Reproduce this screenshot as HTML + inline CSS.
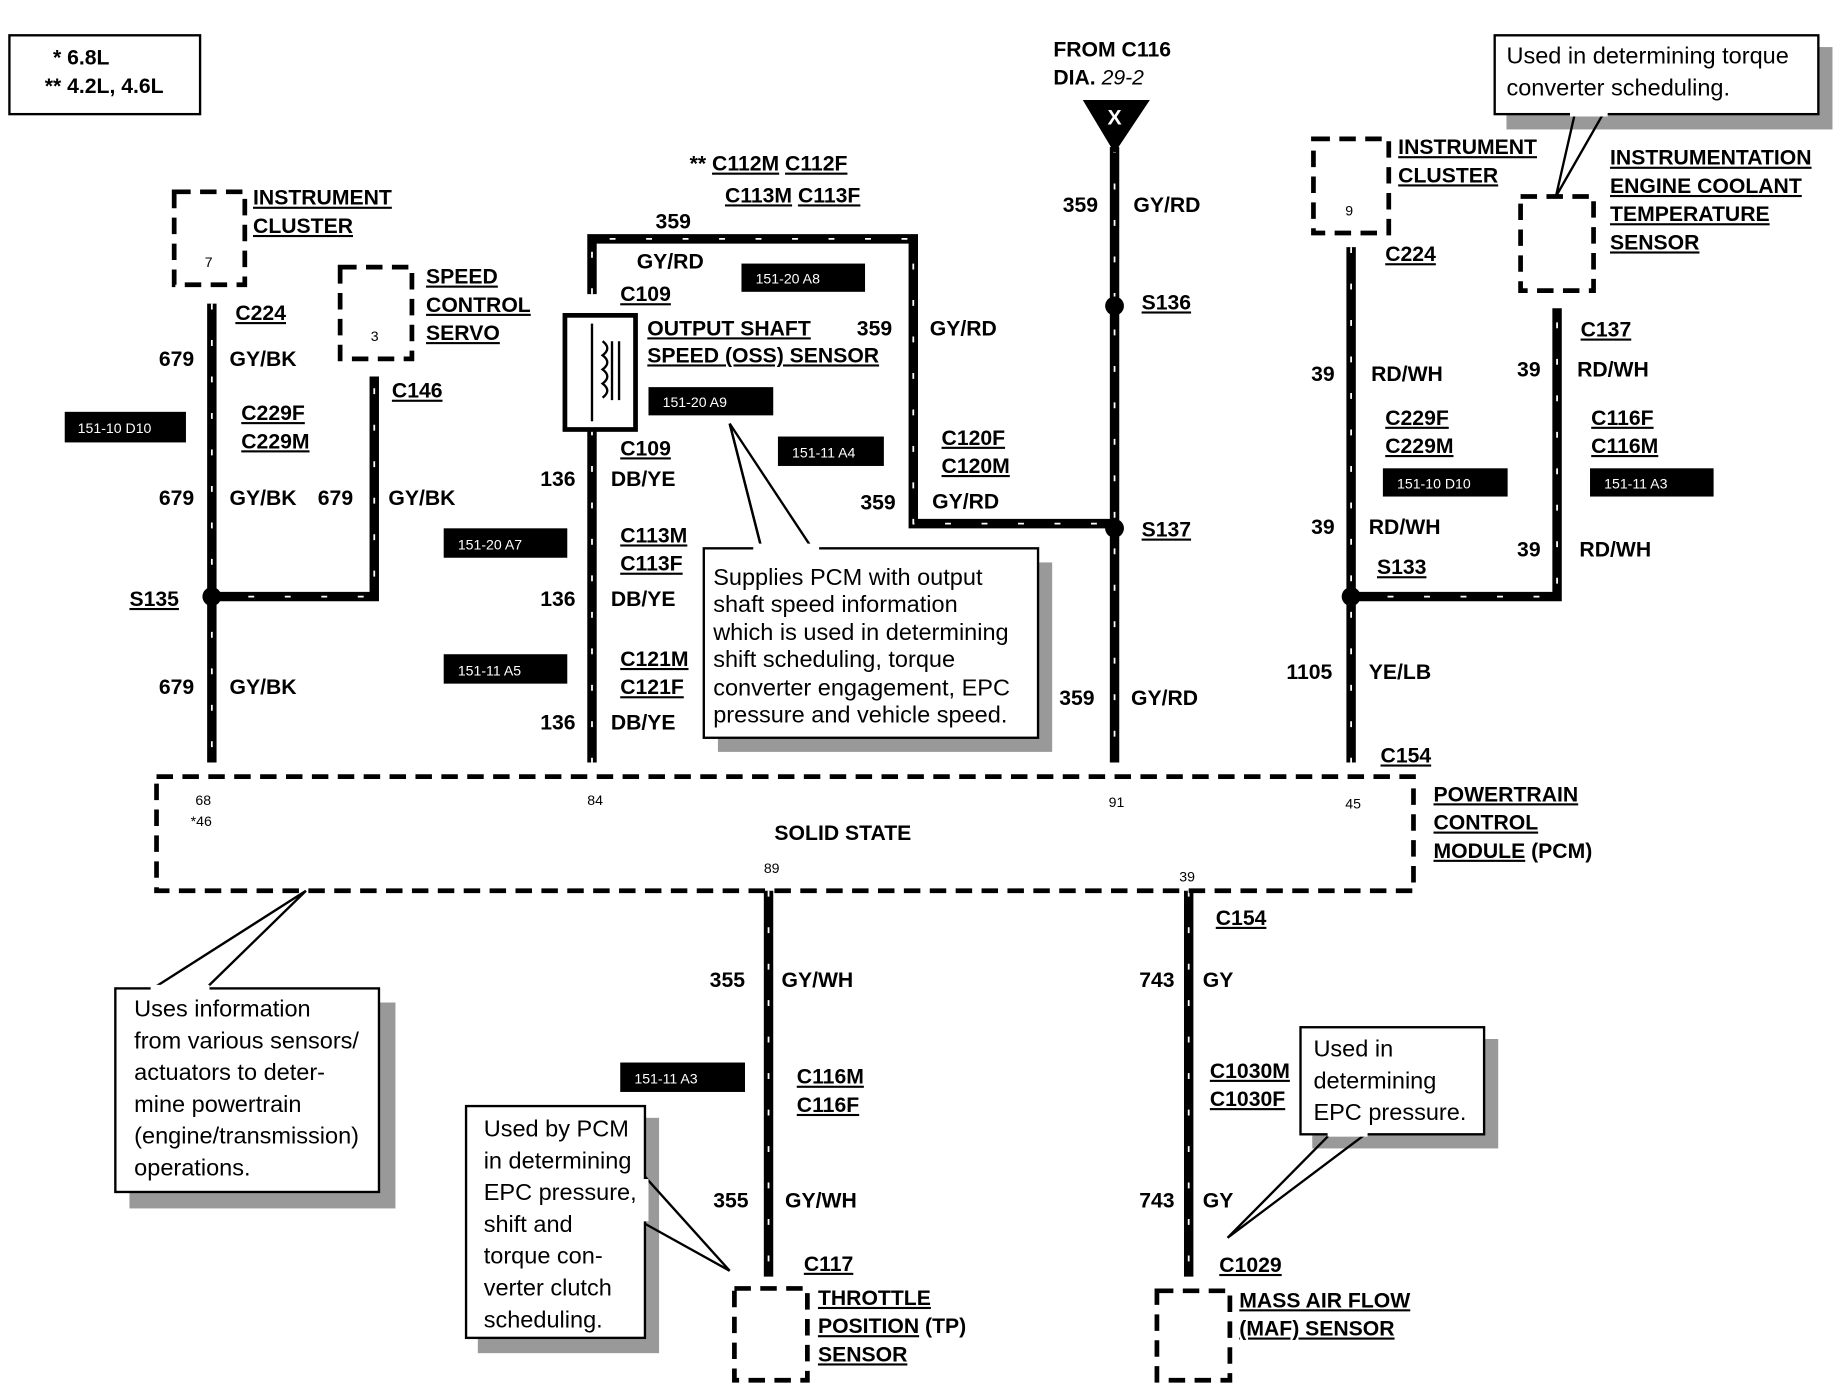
<!DOCTYPE html>
<html><head><meta charset="utf-8"><style>
html,body{margin:0;padding:0;background:#fff}
svg{display:block}
.b{font-family:"Liberation Sans",sans-serif;font-weight:bold;font-size:18px;fill:#000}
.u{text-decoration:underline}
.n{font-family:"Liberation Sans",sans-serif;font-size:20px;fill:#000}
.s{font-family:"Liberation Sans",sans-serif;font-size:12px;fill:#000}
.w{fill:none;stroke:#000;stroke-width:8}
.wd{fill:none;stroke:#fff;stroke-width:1.5;stroke-dasharray:5 26}
.dbx{fill:none;stroke:#000;stroke-width:4;stroke-dasharray:14 8}
.lbl{fill:#000}
.lt{font-family:"Liberation Sans",sans-serif;font-size:12px;fill:#fff}
.cb{fill:#fff;stroke:#000;stroke-width:2}
.sh{fill:#999}
</style></head><body>
<svg width="1836" height="1392" viewBox="0 0 1560 1183" preserveAspectRatio="none" xmlns="http://www.w3.org/2000/svg">
<rect width="1560" height="1183" fill="#fff"/>
<!-- legend -->
<rect x="8" y="30" width="162" height="67" fill="none" stroke="#000" stroke-width="2"/>
<text class="b" x="45" y="55">* 6.8L</text>
<text class="b" x="38" y="79">** 4.2L, 4.6L</text>

<!-- wires -->
<g>
<path class="w" d="M180,258 V648"/><path class="wd" d="M180,258 V648"/>
<path class="w" d="M180,507 H318 V320"/><path class="wd" d="M180,507 H318 V320"/>
<path class="w" d="M503,250 V203 H776 V445 H947"/><path class="wd" d="M503,250 V203 H776 V445 H947"/>
<path class="w" d="M503,365 V648"/><path class="wd" d="M503,365 V648"/>
<path class="w" d="M947,125 V648"/><path class="wd" d="M947,125 V648"/>
<path class="w" d="M1148,210 V648"/><path class="wd" d="M1148,210 V648"/>
<path class="w" d="M1148,507 H1323 V262"/><path class="wd" d="M1148,507 H1323 V262"/>
<path class="w" d="M653,757 V1085"/><path class="wd" d="M653,757 V1085"/>
<path class="w" d="M1010,757 V1085"/><path class="wd" d="M1010,757 V1085"/>
</g>
<circle cx="180" cy="507" r="8"/><circle cx="947" cy="260" r="8"/><circle cx="947" cy="449" r="8"/><circle cx="1148" cy="507" r="8"/>

<!-- left -->
<rect class="dbx" x="148" y="163" width="60" height="79" fill="#fff"/>
<text class="s" x="174" y="227">7</text>
<text class="b u" x="215" y="174">INSTRUMENT</text><text class="b u" x="215" y="198">CLUSTER</text>
<text class="b u" x="200" y="272">C224</text>
<text class="b" x="135" y="311">679</text><text class="b" x="195" y="311">GY/BK</text>
<rect class="lbl" x="55" y="350" width="103" height="26"/><text class="lt" x="66" y="368">151-10 D10</text>
<text class="b u" x="205" y="357">C229F</text><text class="b u" x="205" y="381">C229M</text>
<text class="b" x="135" y="429">679</text><text class="b" x="195" y="429">GY/BK</text>
<text class="b" x="270" y="429">679</text><text class="b" x="330" y="429">GY/BK</text>
<text class="b u" x="110" y="515">S135</text>
<text class="b" x="135" y="590">679</text><text class="b" x="195" y="590">GY/BK</text>
<rect class="dbx" x="289" y="227" width="61" height="78" fill="#fff"/>
<text class="s" x="315" y="290">3</text>
<text class="b u" x="362" y="241">SPEED</text><text class="b u" x="362" y="265">CONTROL</text><text class="b u" x="362" y="289">SERVO</text>
<text class="b u" x="333" y="338">C146</text>

<!-- OSS -->
<rect x="480" y="268" width="60" height="97" fill="#fff" stroke="#000" stroke-width="4"/>
<path d="M503,275 V358 M512,290 q8,6 0,12 q8,6 0,12 q8,6 0,12 q8,6 0,12 M520,290 V340 M526,290 V340" stroke="#000" stroke-width="2" fill="none"/>
<text class="b u" x="527" y="256">C109</text><text class="b u" x="527" y="387">C109</text>
<text class="b" x="557" y="194">359</text><text class="b" x="541" y="228">GY/RD</text>
<rect class="lbl" x="630" y="224" width="105" height="24"/><text class="lt" x="642" y="241">151-20 A8</text>
<text class="b" x="586" y="145">** <tspan class="u">C112M</tspan> <tspan class="u">C112F</tspan></text>
<text class="b" x="616" y="172"><tspan class="u">C113M</tspan>  <tspan class="u">C113F</tspan></text>
<text class="b u" x="550" y="285">OUTPUT SHAFT</text><text class="b u" x="550" y="308">SPEED (OSS) SENSOR</text>
<text class="b" x="728" y="285">359</text><text class="b" x="790" y="285">GY/RD</text>
<rect class="lbl" x="551" y="329" width="106" height="24"/><text class="lt" x="563" y="346">151-20 A9</text>
<text class="b" x="459" y="413">136</text><text class="b" x="519" y="413">DB/YE</text>
<rect class="lbl" x="661" y="371" width="90" height="25"/><text class="lt" x="673" y="389">151-11 A4</text>
<text class="b u" x="800" y="378">C120F</text><text class="b u" x="800" y="402">C120M</text>
<text class="b" x="731" y="433">359</text><text class="b" x="792" y="432">GY/RD</text>
<rect class="lbl" x="377" y="449" width="105" height="25"/><text class="lt" x="389" y="467">151-20 A7</text>
<text class="b u" x="527" y="461">C113M</text><text class="b u" x="527" y="485">C113F</text>
<text class="b" x="459" y="515">136</text><text class="b" x="519" y="515">DB/YE</text>
<rect class="lbl" x="377" y="556" width="105" height="25"/><text class="lt" x="389" y="574">151-11 A5</text>
<text class="b u" x="527" y="566">C121M</text><text class="b u" x="527" y="590">C121F</text>
<text class="b" x="459" y="620">136</text><text class="b" x="519" y="620">DB/YE</text>
<rect class="sh" x="610" y="478" width="284" height="161"/>
<rect class="cb" x="598" y="466" width="284" height="161"/>
<polyline points="620,360 647,466 M0,0" fill="none" stroke="#000" stroke-width="2"/>
<path d="M620,360 L647,466 M620,360 L690,466" stroke="#000" stroke-width="2"/>
<rect x="640" y="462" width="56" height="6" fill="#fff"/>
<text class="n" x="606" y="497">Supplies PCM with output</text>
<text class="n" x="606" y="520">shaft speed information</text>
<text class="n" x="606" y="544">which is used in determining</text>
<text class="n" x="606" y="567">shift scheduling, torque</text>
<text class="n" x="606" y="591">converter engagement, EPC</text>
<text class="n" x="606" y="614">pressure and vehicle speed.</text>

<!-- center -->
<text class="b" x="895" y="48">FROM C116</text>
<text class="b" x="895" y="72">DIA. <tspan font-style="italic" font-weight="normal">29-2</tspan></text>
<polygon points="920,85 977,85 947,130"/>
<text class="b" x="941" y="106" fill="#fff" style="fill:#fff">X</text>
<text class="b" x="903" y="180">359</text><text class="b" x="963" y="180">GY/RD</text>
<text class="b u" x="970" y="263">S136</text>
<text class="b u" x="970" y="456">S137</text>
<text class="b" x="900" y="599">359</text><text class="b" x="961" y="599">GY/RD</text>

<!-- right -->
<rect class="dbx" x="1116" y="118" width="64" height="80" fill="#fff"/>
<text class="s" x="1143" y="183">9</text>
<text class="b u" x="1188" y="131">INSTRUMENT</text><text class="b u" x="1188" y="155">CLUSTER</text>
<text class="b u" x="1177" y="222">C224</text>
<text class="b" x="1114" y="324">39</text><text class="b" x="1165" y="324">RD/WH</text>
<text class="b u" x="1177" y="361">C229F</text><text class="b u" x="1177" y="385">C229M</text>
<rect class="lbl" x="1175" y="398" width="106" height="24"/><text class="lt" x="1187" y="415">151-10 D10</text>
<text class="b" x="1114" y="454">39</text><text class="b" x="1163" y="454">RD/WH</text>
<text class="b u" x="1170" y="488">S133</text>
<text class="b" x="1093" y="577">1105</text><text class="b" x="1163" y="577">YE/LB</text>
<text class="b u" x="1173" y="648">C154</text>
<rect class="dbx" x="1292" y="167" width="62" height="80" fill="#fff"/>
<text class="b u" x="1368" y="140">INSTRUMENTATION</text><text class="b u" x="1368" y="164">ENGINE COOLANT</text>
<text class="b u" x="1368" y="188">TEMPERATURE</text><text class="b u" x="1368" y="212">SENSOR</text>
<text class="b u" x="1343" y="286">C137</text>
<text class="b" x="1289" y="320">39</text><text class="b" x="1340" y="320">RD/WH</text>
<text class="b u" x="1352" y="361">C116F</text><text class="b u" x="1352" y="385">C116M</text>
<rect class="lbl" x="1351" y="398" width="105" height="24"/><text class="lt" x="1363" y="415">151-11 A3</text>
<text class="b" x="1289" y="473">39</text><text class="b" x="1342" y="473">RD/WH</text>
<rect class="sh" x="1280" y="40" width="277" height="70"/>
<rect class="cb" x="1270" y="30" width="275" height="67"/>
<path d="M1322,167 L1338,97 M1322,167 L1362,97" stroke="#000" stroke-width="2"/>
<rect x="1334" y="94" width="32" height="5" fill="#fff"/>
<text class="n" x="1280" y="54">Used in determining torque</text>
<text class="n" x="1280" y="81">converter scheduling.</text>

<!-- PCM -->
<rect class="dbx" x="133" y="660" width="1068" height="97" fill="#fff"/>
<text class="s" x="166" y="684">68</text><text class="s" x="162" y="702">*46</text>
<text class="s" x="499" y="684">84</text><text class="s" x="942" y="686">91</text><text class="s" x="1143" y="687">45</text>
<text class="b" x="658" y="714">SOLID STATE</text>
<text class="s" x="649" y="742">89</text><text class="s" x="1002" y="749">39</text>
<text class="b u" x="1218" y="681">POWERTRAIN</text><text class="b u" x="1218" y="705">CONTROL</text>
<text class="b" x="1218" y="729"><tspan class="u">MODULE</tspan> (PCM)</text>

<!-- bottom -->
<text class="b u" x="1033" y="786">C154</text>
<text class="b" x="603" y="839">355</text><text class="b" x="664" y="839">GY/WH</text>
<rect class="lbl" x="527" y="903" width="106" height="25"/><text class="lt" x="539" y="921">151-11 A3</text>
<text class="b u" x="677" y="921">C116M</text><text class="b u" x="677" y="945">C116F</text>
<text class="b" x="606" y="1026">355</text><text class="b" x="667" y="1026">GY/WH</text>
<text class="b u" x="683" y="1080">C117</text>
<rect class="dbx" x="624" y="1095" width="62" height="78" fill="#fff"/>
<text class="b u" x="695" y="1109">THROTTLE</text><text class="b" x="695" y="1133"><tspan class="u">POSITION</tspan> (TP)</text><text class="b u" x="695" y="1157">SENSOR</text>
<text class="b" x="968" y="839">743</text><text class="b" x="1022" y="839">GY</text>
<text class="b u" x="1028" y="916">C1030M</text><text class="b u" x="1028" y="940">C1030F</text>
<text class="b" x="968" y="1026">743</text><text class="b" x="1022" y="1026">GY</text>
<text class="b u" x="1036" y="1081">C1029</text>
<rect class="dbx" x="983" y="1097" width="62" height="76" fill="#fff"/>
<text class="b u" x="1053" y="1111">MASS AIR FLOW</text><text class="b u" x="1053" y="1135">(MAF) SENSOR</text>

<!-- callouts bottom -->
<rect class="sh" x="110" y="852" width="226" height="175"/>
<rect class="cb" x="98" y="840" width="224" height="173"/>
<path d="M260,757 L130,840 M260,757 L175,840" stroke="#000" stroke-width="2"/>
<rect x="128" y="837" width="50" height="5" fill="#fff"/>
<text class="n" x="114" y="864">Uses information</text>
<text class="n" x="114" y="891">from various sensors/</text>
<text class="n" x="114" y="918">actuators to deter-</text>
<text class="n" x="114" y="945">mine powertrain</text>
<text class="n" x="114" y="972">(engine/transmission)</text>
<text class="n" x="114" y="999">operations.</text>

<rect class="sh" x="406" y="950" width="154" height="200"/>
<rect class="cb" x="396" y="940" width="152" height="197"/>
<path d="M620,1080 L548,1000 M620,1080 L548,1040" stroke="#000" stroke-width="2"/>
<rect x="545" y="1002" width="6" height="36" fill="#fff"/>
<text class="n" x="411" y="966">Used by PCM</text>
<text class="n" x="411" y="993">in determining</text>
<text class="n" x="411" y="1020">EPC pressure,</text>
<text class="n" x="411" y="1047">shift and</text>
<text class="n" x="411" y="1074">torque con-</text>
<text class="n" x="411" y="1101">verter clutch</text>
<text class="n" x="411" y="1128">scheduling.</text>

<rect class="sh" x="1115" y="883" width="158" height="93"/>
<rect class="cb" x="1105" y="873" width="156" height="91"/>
<path d="M1043,1052 L1130,964 M1043,1052 L1160,964" stroke="#000" stroke-width="2"/>
<rect x="1128" y="961" width="34" height="5" fill="#fff"/>
<text class="n" x="1116" y="898">Used in</text>
<text class="n" x="1116" y="925">determining</text>
<text class="n" x="1116" y="952">EPC pressure.</text>
</svg>
</body></html>
